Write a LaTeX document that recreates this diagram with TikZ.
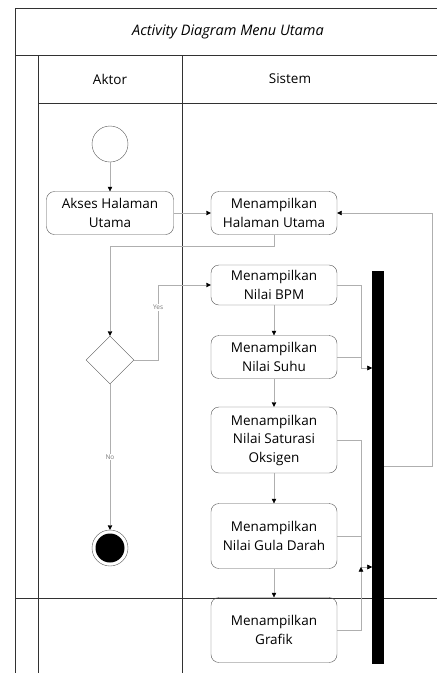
\documentclass[tikz,border=0pt]{standalone}
\usepackage{fontspec}
\setmainfont{Open Sans}
\usetikzlibrary{arrows.meta, positioning, shapes.geometric}
\definecolor{FrameGray}{RGB}{50,50,50}
\definecolor{BoxGray}{RGB}{85,85,85}
\definecolor{LineGray}{RGB}{175,175,175}
\definecolor{TagGray}{RGB}{120,120,120}

\begin{document}
\begin{tikzpicture}[x=1pt, y=-1pt,
	act/.style={draw=BoxGray, rounded corners=8pt, minimum width=126pt, align=center,
		inner sep=2pt, font=\fontsize{13.5}{18.5}\selectfont},
	lane/.style={font=\fontsize{13.5}{16}\selectfont},
	flow/.style={draw=LineGray, -{Triangle[length=4.5pt, width=4.5pt, color=black]}},
	tag/.style={fill=white, inner sep=1pt, text=TagGray, font=\fontsize{6.5}{7}\selectfont}]
	\useasboundingbox (0,0) rectangle (437,673);
	
	% swimlane
	\draw[FrameGray] (440,8) -- (15,8) -- (15,676);
	\draw[FrameGray] (15,55) -- (440,55);
	\draw[FrameGray] (38,55) -- (38,676);
	\draw[FrameGray] (182,55) -- (182,676);
	\draw[FrameGray] (38,103) -- (440,103);
	\draw[FrameGray] (15,598) -- (440,598);
	\node[font=\fontsize{14.5}{16}\selectfont\itshape] (title) at (228,32) {Activity Diagram Menu Utama};
	\node[lane] (aktor) at (110,79) {Aktor};
	\node[lane] (sistem) at (290,79) {Sistem};
	
	% aktor
	\node[circle, draw=BoxGray, minimum size=36pt] (start) at (110,144) {};
	\node[act, minimum width=127pt, minimum height=43pt] (akses) at (110,213) {Akses Halaman\\Utama};
	\node[diamond, draw=BoxGray, inner sep=0pt, minimum width=48pt, minimum height=48pt] (dec) at (110,360) {};
	\node[circle, draw=BoxGray, minimum size=36pt] (end) at (110,548) {};
	\fill (end) circle (14.5);
	
	% sistem
	\node[act, minimum height=43pt] (hal) at (274,213) {Menampilkan\\Halaman Utama};
	\node[act, minimum height=40pt] (bpm) at (274,285) {Menampilkan\\Nilai BPM};
	\node[act, minimum height=43pt] (suhu) at (274,357) {Menampilkan\\Nilai Suhu};
	\node[act, minimum height=66pt] (sat) at (274,440) {Menampilkan\\Nilai Saturasi\\Oksigen};
	\node[act, minimum height=65pt] (gula) at (274,536) {Menampilkan\\Nilai Gula Darah};
	\node[act, minimum height=65pt] (grafik) at (274,630) {Menampilkan\\Grafik};
	
	% join bar
	\node[fill=black, inner sep=0pt, minimum width=12pt, minimum height=393pt] (bar) at (378,467.5) {};
	\coordinate (busA) at (361,368);
	\coordinate (busB) at (361,567);
	\coordinate (back) at (432,466);
	
	\draw[flow] (start) -- (akses);
	\draw[flow] (akses) -- (hal);
	\draw[flow] (hal.south) -- ++(0,11) -| (dec.north);
	\draw[flow] (dec.east) -- ++(24,0) |- (bpm.west) node[tag, pos=0.35] {Yes};
	\draw[flow] (dec.south) -- (end) node[tag, midway] {No};
	\draw[flow] (bpm) -- (suhu);
	\draw[flow] (suhu) -- (sat);
	\draw[flow] (sat) -- (gula);
	\draw[flow] (gula) -- (grafik);
	
	\draw[flow] (bpm.east) -| (busA) -- (bar.west |- busA);
	\draw[flow] (suhu.east) -| (busA) -- (bar.west |- busA);
	\draw[flow] (sat.east) -| (busB) -- (bar.west |- busB);
	\draw[flow] (gula.east) -| (busB) -- (bar.west |- busB);
	\draw[flow] (grafik.east) -| (busB);
	\draw[flow] (bar.east |- back) -- (back) |- (hal.east);
\end{tikzpicture}
\end{document}
